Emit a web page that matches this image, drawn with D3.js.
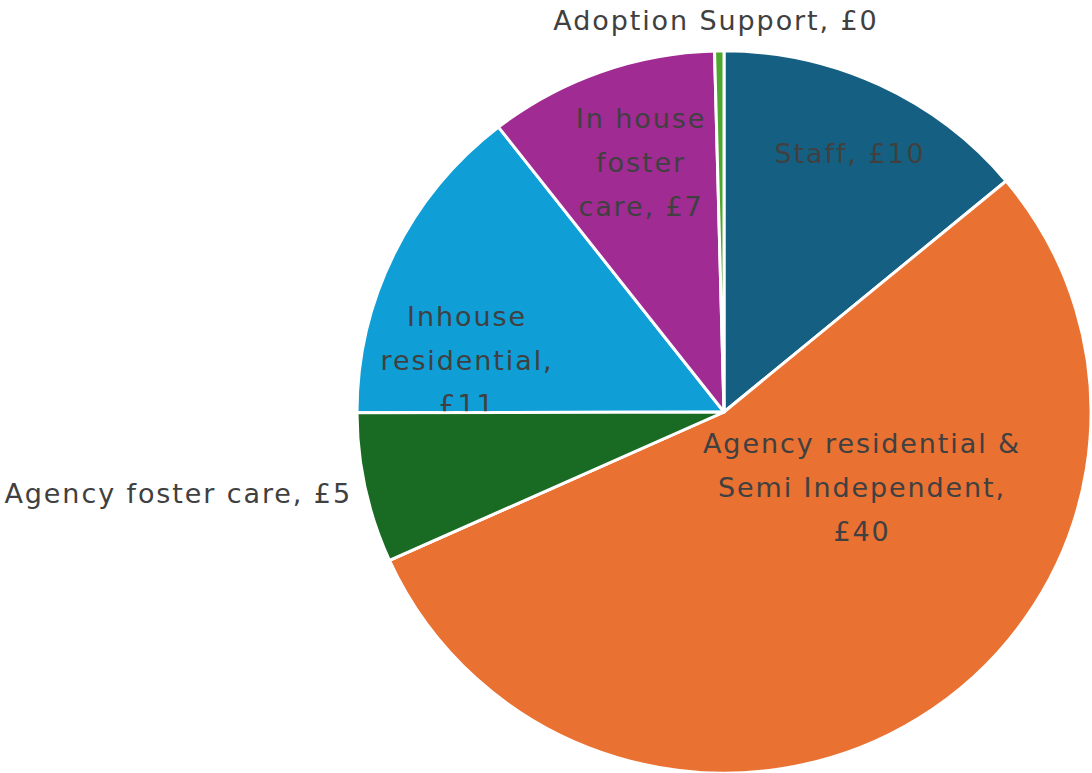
<!DOCTYPE html>
<html>
<head>
<meta charset="utf-8">
<script src="https://cdn.jsdelivr.net/npm/d3@7"></script>
<style>
  html, body { margin: 0; padding: 0; background: #fff; }
  svg { display: block; }
  text { font-family: "DejaVu Sans", sans-serif; fill: #404040; }
</style>
</head>
<body>
<script>
// slices, clockwise from 12 o'clock
const categories = ["Staff", "Agency residential & Semi Independent", "Agency foster care",
  "Inhouse residential", "In house foster care", "Adoption Support"]
const values = [10.2, 39.7, 4.9, 10.6, 7.4, 0.3]
const labels = ["Staff, £10", "Agency residential &|Semi Independent,|£40", "Agency foster care, £5",
  "Inhouse|residential,|£11", "In house|foster|care, £7", "Adoption Support, £0"]
const colors = ["#156082", "#E97132", "#196B24", "#0F9ED5", "#A02B93", "#4EA72E"]

const width = 1092, height = 773
const cx = 724, cy = 412, R = 367

// where each label sits (text layout, relative to pie centre)
const labelPos = [
  { x: 126, y: -259, anchor: "middle" },
  { x: 138, y: 75, anchor: "middle" },
  { x: -372, y: 81, anchor: "end" },
  { x: -257, y: -52, anchor: "middle" },
  { x: -83, y: -250, anchor: "middle" },
  { x: -8, y: -392, anchor: "middle" }
]

const svg = d3.select("body").append("svg")
  .attr("width", width)
  .attr("height", height)

const data = categories.map((c, i) => ({ name: c, value: values[i], label: labels[i], i: i }))

const pie = d3.pie().sort(null).value(d => d.value)
const arc = d3.arc().innerRadius(0).outerRadius(R)
const arcs = pie(data)

function drawSlices(sel, list) {
  sel.selectAll("path")
    .data(list)
    .enter()
    .append("path")
    .attr("d", arc)
    .attr("fill", d => colors[d.data.i])
    .attr("stroke", "#fff")
    .attr("stroke-width", 3)
    .attr("stroke-linejoin", "round")
}

const g = svg.append("g").attr("transform", `translate(${cx},${cy}) scale(1,0.984)`)
drawSlices(g, arcs)

const lg = svg.append("g").attr("transform", `translate(${cx},${cy})`)
const lineH = 44

data.forEach((d, i) => {
  const lines = d.label.split("|")
  const p = labelPos[i]
  const t = lg.append("text")
    .attr("x", p.x)
    .attr("y", p.y - (lines.length - 1) * lineH / 2)
    .attr("text-anchor", p.anchor)
    .attr("dominant-baseline", "central")
    .style("font-size", "27px")
    .style("letter-spacing", "1.9px")
  lines.forEach((ln, k) => {
    t.append("tspan")
      .attr("x", p.x)
      .attr("dy", k === 0 ? 0 : lineH)
      .text(ln)
  })
})

// agency foster slice sits over the inhouse residential label, as in the original
const g2 = svg.append("g").attr("transform", `translate(${cx},${cy}) scale(1,0.984)`)
drawSlices(g2, arcs.filter(a => a.data.i === 2))
</script>
</body>
</html>
